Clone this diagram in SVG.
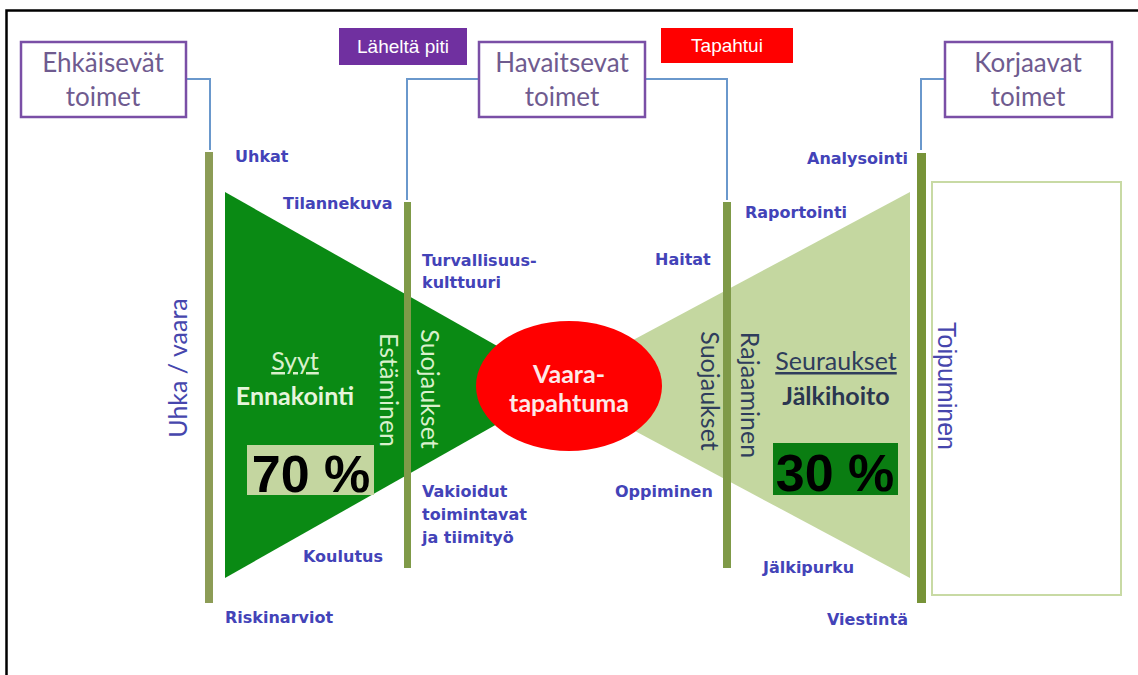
<svg xmlns="http://www.w3.org/2000/svg" width="1138" height="675" viewBox="0 0 1138 675">
<style>
.box{fill:#fff;stroke:#7a4fa6;stroke-width:2.5}
.boxt{font-family:Lato,"Liberation Sans",sans-serif;font-size:26px;fill:#6f5b8f;text-anchor:middle}
.conn{fill:none;stroke:#6a98cc;stroke-width:2}
.bar{fill:#7f9a48}
.lbl{font-family:"DejaVu Sans",sans-serif;font-weight:bold;font-size:16px;fill:#4343b8}
.cal{font-family:Lato,"Liberation Sans",sans-serif;font-size:25px}
.tag{font-family:"Liberation Sans",Arial,sans-serif;fill:#fff;text-anchor:middle}
.pct{font-family:"Liberation Sans",Arial,sans-serif;font-weight:bold;font-size:52px;fill:#000}
</style>
<rect width="1138" height="675" fill="#fff"/>
<path d="M6.5 675 V10.5 H1138" fill="none" stroke="#000" stroke-width="2.5"/>

<g id="triangles">
<polygon points="225,192 566,385 225,578" fill="#0a8a14"/>
<polygon points="910,192 549,385 910,578" fill="#c4d7a0"/>
</g>

<g id="connectors">
<path class="conn" d="M186 79 H210 V150"/>
<path class="conn" d="M479 79 H407 V200"/>
<path class="conn" d="M645 79 H727 V200"/>
<path class="conn" d="M945 79 H921 V150"/>
</g>

<g id="bars">
<rect x="205" y="152" width="8" height="451" fill="#8c9c56"/>
<rect x="404" y="202" width="7" height="366" class="bar"/>
<rect x="723" y="202" width="8" height="366" class="bar"/>
<rect x="917" y="153" width="9" height="450" fill="#779338"/>
</g>

<g id="ehkaisevat">
<rect class="box" x="21" y="42" width="165" height="75"/>
<text class="boxt" x="103" y="72">Ehkäisevät</text>
<text class="boxt" x="103" y="106">toimet</text>
</g>
<g id="havaitsevat">
<rect class="box" x="479" y="42" width="166" height="75"/>
<text class="boxt" x="562" y="72">Havaitsevat</text>
<text class="boxt" x="562" y="106">toimet</text>
</g>
<g id="korjaavat">
<rect class="box" x="945" y="42" width="167" height="75"/>
<text class="boxt" x="1028" y="72">Korjaavat</text>
<text class="boxt" x="1028" y="106">toimet</text>
</g>
<g id="laheltapiti">
<rect x="339" y="28" width="128" height="37" fill="#7030a0"/>
<text class="tag" x="403" y="53" font-size="19">Läheltä piti</text>
</g>
<g id="tapahtui">
<rect x="661" y="28" width="132" height="35" fill="#ff0000"/>
<text class="tag" x="727" y="52" font-size="19">Tapahtui</text>
</g>

<g id="toipuminen">
<rect x="932" y="182" width="189" height="413" fill="#fff" stroke="#c8daa4" stroke-width="2"/>
<text font-family="'Liberation Sans',Arial,sans-serif" font-size="25" fill="#4646ad" text-anchor="middle" transform="translate(938,386) rotate(90)">Toipuminen</text>
</g>

<g id="vaaratapahtuma">
<ellipse cx="569" cy="386" rx="93" ry="65" fill="#ff0000"/>
<text class="cal" x="569" y="383" font-size="21" font-weight="bold" fill="#fde8e8" text-anchor="middle">Vaara-</text>
<text class="cal" x="569" y="412" font-size="21" font-weight="bold" fill="#fde8e8" text-anchor="middle">tapahtuma</text>
</g>

<g id="syyt">
<text class="cal" x="295" y="370" fill="#d9f0cc" text-anchor="middle" text-decoration="underline">Syyt</text>
<text class="cal" x="295" y="405" font-size="24" font-weight="bold" fill="#e6f5dc" text-anchor="middle">Ennakointi</text>
<rect x="247" y="445" width="127" height="50" fill="#c4d6a0"/>
<text class="pct" x="311" y="492" text-anchor="middle">70 %</text>
<text class="cal" fill="#d9f0cc" text-anchor="middle" transform="translate(380,390) rotate(90)">Estäminen</text>
<text class="cal" font-size="24" fill="#d9f0cc" text-anchor="middle" transform="translate(421,389) rotate(90)">Suojaukset</text>
</g>

<g id="seuraukset">
<text class="cal" x="836" y="370" fill="#2f3d5c" text-anchor="middle" text-decoration="underline">Seuraukset</text>
<text class="cal" x="836" y="405" font-size="24" font-weight="bold" fill="#2a3650" text-anchor="middle">Jälkihoito</text>
<rect x="773" y="443" width="125" height="52" fill="#0a7d12"/>
<text class="pct" x="835" y="491" text-anchor="middle">30 %</text>
<text class="cal" font-size="24" fill="#2f3d5c" text-anchor="middle" transform="translate(701,391) rotate(90)">Suojaukset</text>
<text class="cal" fill="#2f3d5c" text-anchor="middle" transform="translate(741,395) rotate(90)">Rajaaminen</text>
</g>

<g id="uhkavaara">
<text class="cal" fill="#4646ad" text-anchor="middle" transform="translate(187,368) rotate(-90)">Uhka / vaara</text>
</g>

<g id="labels">
<text class="lbl" x="235" y="162">Uhkat</text>
<text class="lbl" x="283" y="209">Tilannekuva</text>
<text class="lbl" x="422" y="266">Turvallisuus-</text>
<text class="lbl" x="422" y="288">kulttuuri</text>
<text class="lbl" x="422" y="497">Vakioidut</text>
<text class="lbl" x="422" y="520">toimintavat</text>
<text class="lbl" x="422" y="543">ja tiimityö</text>
<text class="lbl" x="303" y="562">Koulutus</text>
<text class="lbl" x="225" y="623">Riskinarviot</text>
<text class="lbl" x="807" y="164">Analysointi</text>
<text class="lbl" x="745" y="218">Raportointi</text>
<text class="lbl" x="655" y="265">Haitat</text>
<text class="lbl" x="615" y="497">Oppiminen</text>
<text class="lbl" x="763" y="573">Jälkipurku</text>
<text class="lbl" x="827" y="625">Viestintä</text>
</g>
</svg>
